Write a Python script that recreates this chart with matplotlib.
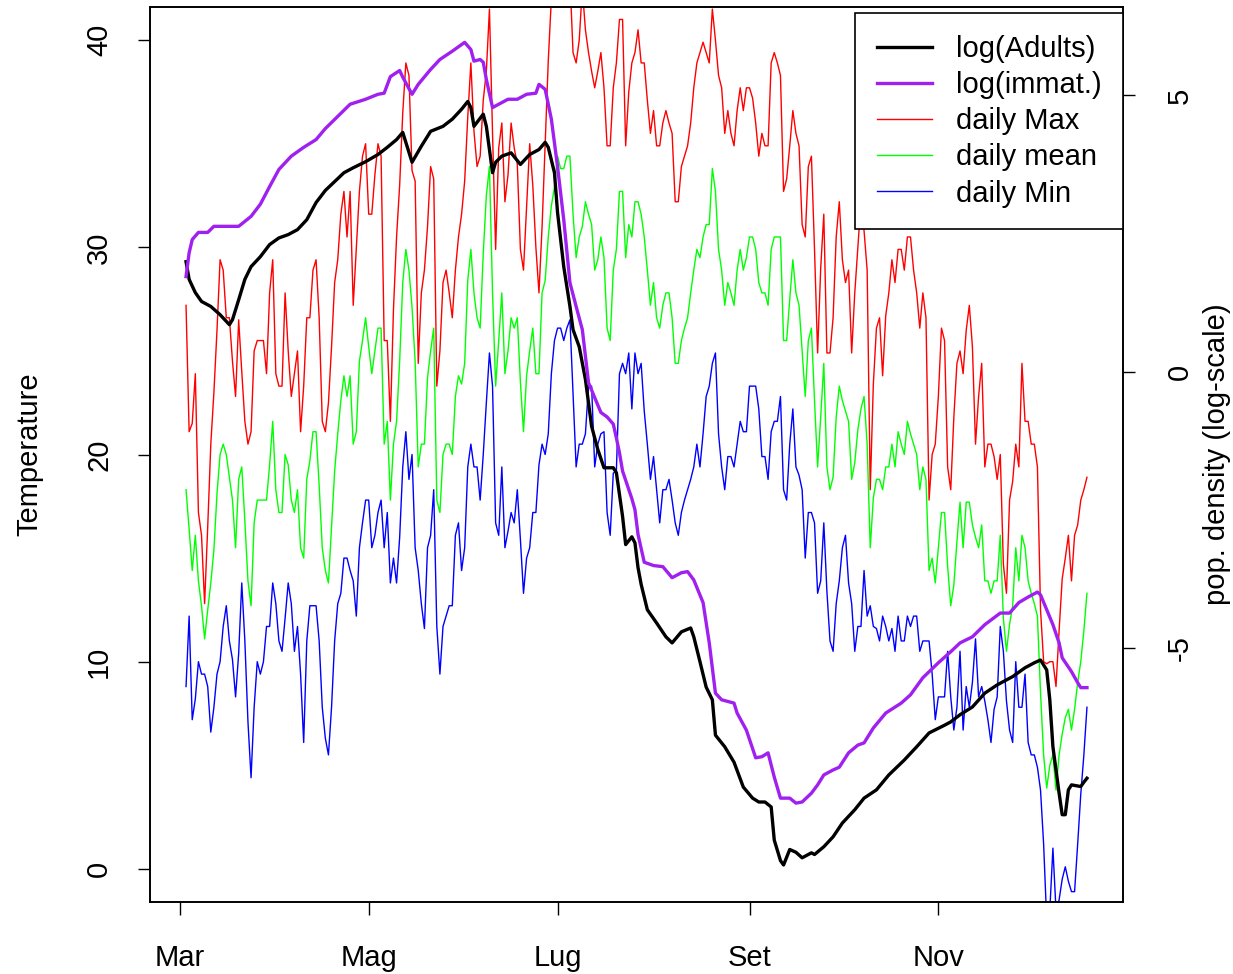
import numpy as np
import matplotlib
matplotlib.use("Agg")
import matplotlib.pyplot as plt
from matplotlib.lines import Line2D

plt.rcParams['font.family'] = ['Liberation Sans', 'DejaVu Sans']

# daily temperatures, day 2 (3 Mar) .. day 293 (19 Dec), day 0 = 1 Mar
t_max = [
    27.2, 21.1, 21.5, 23.9, 17.2, 16.1, 12.8, 16.5, 20.5, 23.0,
    26.0, 29.4, 28.9, 26.6, 26.6, 24.5, 22.8, 26.5, 24.0, 21.6,
    20.5, 21.1, 25.0, 25.5, 25.5, 25.5, 23.9, 27.8, 29.4, 23.9,
    23.3, 23.3, 27.8, 25.0, 22.8, 23.9, 25.0, 21.1, 23.3, 26.6,
    26.6, 28.9, 29.4, 26.6, 21.6, 21.1, 22.5, 25.2, 28.3, 29.4,
    31.6, 32.7, 30.5, 32.7, 27.2, 30.0, 32.7, 34.4, 35.0, 31.6,
    31.6, 33.5, 35.0, 34.4, 25.5, 25.5, 21.6, 27.0, 30.5, 33.0,
    36.5, 38.9, 38.3, 33.7, 33.2, 24.4, 27.8, 28.9, 31.0, 33.9,
    33.3, 23.3, 25.0, 28.3, 28.9, 27.8, 26.6, 28.9, 30.5, 31.6,
    33.2, 36.3, 38.9, 35.6, 33.9, 34.4, 37.1, 38.5, 41.5, 35.5,
    29.9, 34.8, 36.0, 32.2, 33.5, 36.0, 34.8, 34.0, 29.9, 28.9,
    32.0, 35.0, 33.0, 30.0, 27.8, 31.0, 35.0, 39.0, 42.0, 44.0,
    43.0, 45.0, 42.5, 44.0, 43.0, 39.4, 38.9, 40.0, 42.5, 40.5,
    39.4, 38.5, 37.7, 38.5, 39.4, 37.7, 34.9, 34.9, 37.7, 38.9,
    41.0, 41.0, 34.9, 37.5, 38.9, 39.4, 40.5, 38.9, 38.9, 37.1,
    35.5, 36.6, 34.9, 34.9, 36.0, 36.6, 36.0, 35.5, 32.2, 32.2,
    33.9, 34.4, 34.9, 36.0, 37.7, 38.9, 39.4, 39.9, 39.4, 38.9,
    41.5, 40.0, 38.3, 37.7, 35.5, 36.6, 35.5, 34.9, 36.6, 37.7,
    36.6, 37.7, 37.7, 37.2, 36.0, 34.4, 35.5, 34.9, 34.9, 38.9,
    39.4, 38.9, 38.3, 32.7, 33.3, 34.9, 36.6, 35.5, 34.9, 31.1,
    30.5, 33.9, 34.4, 29.9, 24.9, 29.0, 31.6, 24.9, 24.9, 26.6,
    30.5, 32.2, 29.4, 28.3, 28.9, 24.9, 27.8, 30.0, 32.2, 30.8,
    28.9, 18.3, 23.4, 26.1, 26.6, 23.8, 26.7, 27.8, 29.4, 28.3,
    29.9, 29.9, 28.9, 30.5, 30.5, 28.9, 27.8, 26.1, 27.8, 26.6,
    17.8, 20.0, 20.5, 22.8, 26.1, 25.5, 19.4, 18.3, 21.8, 24.4,
    25.0, 23.9, 26.0, 27.2, 25.2, 20.5, 22.8, 24.4, 19.4, 20.5,
    20.5, 19.9, 18.8, 20.0, 14.7, 13.3, 17.8, 18.7, 20.5, 19.4,
    24.4, 21.6, 21.6, 20.5, 20.5, 19.4, 12.5, 10.0, 9.9, 10.0,
    10.0, 8.8, 11.5, 14.0, 15.0, 16.1, 13.9, 16.1, 16.6, 17.8,
    18.3, 18.9,
]

t_mean = [
    18.3, 16.4, 14.4, 16.1, 13.9, 12.7, 11.1, 12.5, 13.8, 15.4,
    18.1, 20.0, 20.5, 20.0, 18.9, 17.8, 15.5, 18.8, 19.4, 16.8,
    13.9, 12.7, 16.7, 17.8, 17.8, 17.8, 17.8, 19.5, 21.6, 18.3,
    17.2, 17.2, 20.0, 19.5, 17.8, 17.2, 18.3, 15.5, 15.0, 18.8,
    19.7, 21.1, 21.1, 18.5, 15.5, 14.4, 13.8, 16.5, 19.2, 21.0,
    22.6, 23.8, 22.8, 23.8, 20.5, 21.1, 24.5, 25.5, 26.6, 25.2,
    23.9, 25.0, 26.1, 26.1, 20.5, 21.6, 17.8, 20.5, 21.6, 24.5,
    28.3, 29.9, 28.9, 27.1, 24.5, 19.4, 20.5, 20.5, 23.7, 25.0,
    26.1, 17.8, 17.2, 20.0, 20.5, 20.5, 20.0, 22.8, 23.8, 23.4,
    24.4, 28.4, 29.9, 27.8, 26.6, 26.1, 29.7, 32.5, 33.9, 27.8,
    23.3, 25.5, 27.8, 23.9, 25.0, 26.6, 26.1, 26.6, 23.5, 21.1,
    23.8, 25.0, 26.1, 23.9, 23.9, 27.8, 28.4, 30.5, 32.0, 32.9,
    34.4, 33.8, 33.8, 34.4, 34.4, 31.6, 29.5, 30.5, 31.0, 32.2,
    31.6, 31.1, 28.9, 29.4, 30.5, 29.5, 26.1, 25.5, 28.9, 29.9,
    32.7, 32.7, 29.5, 31.1, 30.5, 32.2, 32.2, 31.6, 30.5, 28.9,
    27.2, 28.3, 26.6, 26.1, 27.2, 27.8, 27.8, 26.6, 24.4, 24.4,
    25.5, 26.1, 26.6, 27.8, 28.9, 29.9, 29.5, 30.5, 31.1, 31.1,
    33.8, 32.7, 29.9, 28.9, 27.2, 28.3, 27.8, 27.2, 28.9, 29.9,
    28.9, 29.5, 30.5, 30.5, 29.9, 28.3, 27.8, 27.8, 27.2, 29.9,
    30.5, 30.5, 30.5, 25.5, 25.5, 27.5, 29.4, 27.8, 27.2, 25.0,
    22.8, 25.5, 26.1, 22.6, 19.4, 21.8, 24.4, 19.4, 18.3, 18.9,
    21.8, 23.3, 22.6, 22.1, 21.6, 18.8, 19.6, 21.2, 22.2, 22.8,
    20.5, 15.5, 17.9, 18.8, 18.8, 18.3, 19.4, 19.4, 20.5, 19.4,
    21.1, 20.5, 20.0, 21.6, 21.0, 20.5, 20.0, 18.3, 19.4, 18.8,
    14.4, 15.0, 13.8, 15.5, 17.2, 17.2, 14.6, 12.7, 13.7, 15.8,
    17.7, 15.5, 17.7, 17.7, 16.6, 16.0, 15.5, 16.6, 13.9, 13.9,
    13.3, 13.9, 13.9, 16.1, 12.1, 10.5, 11.8, 12.7, 15.5, 13.9,
    16.1, 15.5, 13.9, 13.3, 12.8, 12.2, 8.5, 5.5, 3.9, 5.0,
    5.5, 3.8, 5.5, 6.5, 7.3, 7.7, 6.7, 7.7, 9.0, 10.0,
    11.5, 13.3,
]

t_min = [
    8.8, 12.2, 7.2, 8.2, 10.0, 9.4, 9.4, 8.8, 6.6, 7.8,
    9.4, 10.0, 11.7, 12.7, 11.0, 10.1, 8.3, 10.4, 13.8, 11.0,
    7.1, 4.4, 7.8, 10.0, 9.4, 10.0, 11.7, 11.7, 13.8, 12.8,
    11.0, 10.5, 12.1, 13.8, 12.8, 10.5, 11.7, 9.4, 6.1, 11.0,
    12.7, 12.7, 12.7, 11.0, 7.8, 6.3, 5.5, 7.8, 11.0, 12.8,
    13.3, 15.0, 15.0, 14.4, 13.9, 12.2, 15.5, 16.7, 17.8, 17.8,
    15.5, 16.1, 17.2, 17.8, 15.5, 17.2, 13.8, 15.0, 13.8, 16.0,
    19.4, 21.1, 18.8, 20.0, 15.5, 14.4, 12.8, 11.6, 15.5, 16.1,
    18.3, 11.7, 9.4, 11.7, 12.2, 12.7, 12.7, 16.1, 16.7, 14.4,
    15.5, 19.4, 20.5, 19.4, 19.4, 17.8, 20.0, 22.5, 24.9, 23.3,
    16.7, 16.1, 19.4, 15.5, 16.3, 17.2, 16.7, 18.3, 15.9, 13.3,
    15.0, 15.5, 17.2, 17.2, 19.5, 20.5, 20.0, 21.0, 23.9, 25.5,
    26.1, 26.1, 25.5, 26.1, 26.5, 23.0, 19.4, 20.5, 20.5, 21.0,
    23.3, 23.3, 19.4, 20.5, 21.0, 21.1, 17.2, 16.1, 19.1, 19.2,
    23.9, 24.4, 23.9, 24.9, 22.2, 24.9, 23.9, 24.4, 22.1, 20.5,
    18.8, 19.9, 18.3, 16.7, 18.3, 18.3, 18.8, 17.8, 16.7, 16.1,
    17.2, 17.8, 18.3, 18.8, 19.4, 20.5, 19.4, 21.0, 22.8, 23.3,
    24.4, 24.9, 21.0, 19.4, 18.3, 19.9, 19.9, 19.4, 20.5, 21.6,
    21.1, 21.1, 23.3, 23.3, 23.3, 22.2, 19.9, 19.9, 18.8, 21.1,
    21.6, 21.6, 22.8, 18.3, 17.8, 20.5, 22.2, 19.4, 19.0, 18.3,
    15.0, 17.2, 17.2, 16.7, 13.3, 13.9, 16.7, 13.4, 11.0, 10.5,
    12.8, 13.9, 15.5, 16.1, 13.8, 12.8, 10.5, 11.7, 11.7, 14.4,
    12.2, 12.7, 11.7, 11.6, 11.0, 12.2, 11.7, 11.0, 11.6, 10.5,
    12.2, 11.0, 11.0, 12.2, 11.7, 12.2, 12.2, 10.5, 11.0, 11.0,
    11.0, 9.4, 7.2, 8.3, 8.3, 8.3, 10.5, 8.3, 6.7, 7.8,
    10.5, 6.7, 8.8, 7.8, 9.0, 11.1, 8.3, 8.8, 8.1, 7.2,
    6.1, 7.7, 8.3, 11.7, 10.5, 8.1, 6.7, 6.1, 10.0, 7.8,
    7.8, 9.4, 6.1, 5.5, 5.5, 4.9, 3.8, 1.2, -2.5, -2.0,
    1.0, -2.0, -1.5, -0.5, 0.1, -0.6, -1.1, -1.1, 1.2, 3.6,
    5.5, 7.8,
]
temp_days = np.arange(2, 2 + len(t_max))

# population densities (log scale), read at selected days
adult_days = [2, 3, 5, 7, 10, 13, 16, 17, 19, 21, 23, 26, 29, 32, 35, 38, 41, 44, 47, 50,
              53, 56, 60, 64, 67, 70, 72, 73, 75, 78, 81, 85, 88, 91, 93, 94, 95, 98, 99, 100,
              101, 102, 104, 107, 110, 113, 116, 118, 119, 121, 122, 124, 126, 127, 129, 131,
              133, 135, 137, 140, 141, 143, 144, 146, 147, 148, 149, 151, 154, 157, 159, 162,
              165, 166, 168, 170, 172, 173, 176, 179, 182, 185, 187, 189, 191, 192, 194, 195,
              197, 199, 201, 204, 205, 208, 211, 214, 218, 221, 225, 229, 234, 238, 242, 247,
              249, 252, 256, 260, 264, 269, 273, 276, 278, 280, 281, 282, 284, 285, 286, 287,
              288, 291, 292, 293]
log_adults = [1.99, 1.67, 1.43, 1.27, 1.18, 1.03, 0.85, 0.94, 1.30, 1.67, 1.90, 2.08, 2.30,
              2.42, 2.48, 2.57, 2.75, 3.06, 3.28, 3.44, 3.60, 3.69, 3.80, 3.93, 4.06, 4.20,
              4.33, 4.15, 3.79, 4.08, 4.35, 4.44, 4.57, 4.75, 4.89, 4.78, 4.44, 4.66, 4.44,
              4.02, 3.60, 3.79, 3.90, 3.96, 3.75, 3.93, 4.02, 4.15, 4.06, 3.60, 2.88, 1.90,
              1.18, 0.76, 0.45, -0.14, -0.99, -1.41, -1.74, -1.74, -1.83, -2.62, -3.13, -2.99,
              -3.10, -3.55, -3.85, -4.31, -4.55, -4.80, -4.91, -4.71, -4.64, -4.80, -5.25,
              -5.71, -5.94, -6.58, -6.79, -7.07, -7.52, -7.72, -7.79, -7.79, -7.88, -8.48,
              -8.85, -8.93, -8.65, -8.70, -8.80, -8.71, -8.74, -8.60, -8.42, -8.17, -7.93,
              -7.72, -7.57, -7.30, -7.03, -6.79, -6.54, -6.40, -6.34, -6.21, -6.07, -5.82,
              -5.67, -5.52, -5.36, -5.27, -5.22, -5.40, -5.94, -6.79, -7.63, -8.02, -8.02,
              -7.57, -7.48, -7.51, -7.43, -7.36]

immat_days = [2, 3, 4, 6, 9, 11, 15, 19, 23, 26, 29, 32, 36, 40, 44, 47, 51, 55, 60, 64,
              66, 68, 71, 72, 75, 77, 81, 84, 88, 92, 94, 95, 97, 98, 99, 101, 103, 106, 109,
              112, 115, 116, 118, 120, 122, 124, 126, 128, 130, 132, 136, 138, 140, 141, 142,
              143, 146, 147, 148, 149, 150, 153, 156, 159, 162, 164, 166, 169, 171, 173, 175,
              179, 180, 183, 186, 188, 190, 192, 194, 197, 199, 201, 204, 206, 208, 211, 213,
              216, 219, 221, 224, 228, 233, 236, 240, 245, 249, 252, 256, 260, 265, 268, 271,
              274, 277, 278, 280, 282, 284, 285, 288, 290, 291, 293]
log_immat = [1.72, 2.15, 2.39, 2.52, 2.52, 2.63, 2.63, 2.63, 2.81, 3.03, 3.35, 3.66, 3.90,
             4.06, 4.20, 4.40, 4.62, 4.84, 4.93, 5.02, 5.04, 5.34, 5.45, 5.33, 5.02, 5.20,
             5.47, 5.65, 5.80, 5.96, 5.83, 5.62, 5.65, 5.60, 5.29, 4.78, 4.84, 4.93, 4.93,
             5.02, 5.04, 5.20, 5.11, 4.57, 3.71, 2.75, 1.61, 1.18, 0.76, -0.20, -0.74, -0.82,
             -0.95, -1.20, -1.47, -1.80, -2.30, -2.50, -2.95, -3.20, -3.45, -3.51, -3.53,
             -3.73, -3.64, -3.62, -3.77, -4.18, -4.91, -5.82, -5.94, -6.00, -6.18, -6.49,
             -6.99, -6.97, -6.90, -7.34, -7.72, -7.72, -7.81, -7.79, -7.63, -7.48, -7.30,
             -7.21, -7.16, -6.90, -6.76, -6.72, -6.45, -6.18, -6.00, -5.85, -5.54, -5.27,
             -5.07, -4.91, -4.80, -4.58, -4.37, -4.37, -4.18, -4.08, -3.99, -4.04, -4.31,
             -4.58, -4.91, -5.18, -5.43, -5.63, -5.72, -5.72]

month_days = [0, 61, 122, 184, 245]
month_labels = ["Mar", "Mag", "Lug", "Set", "Nov"]

FS = 21
fig = plt.figure(figsize=(12.33, 9.74), dpi=100)
ax = fig.add_axes([150 / 1233, 1 - 902 / 974, 973 / 1233, 895 / 974])

ax.plot(temp_days, t_max, color="#FF0000", lw=1.0)
ax.plot(temp_days, t_mean, color="#00FF00", lw=1.0)
ax.plot(temp_days, t_min, color="#0000FF", lw=1.0)
ax.set_xlim(-9.64, 304.64)
ax.set_ylim(-1.6, 41.6)
ax.set_yticks([0, 10, 20, 30, 40])
ax.set_xticks(month_days)
ax.set_xticklabels(month_labels)
ax.tick_params(axis="y", labelsize=FS, length=8.6, width=1, pad=18, labelrotation=90)
ax.tick_params(axis="x", labelsize=FS, length=9.3, width=1, pad=21)
for lab in ax.get_yticklabels():
    lab.set_va("center")
ax.set_ylabel("Temperature", fontsize=FS)
ax.yaxis.set_label_coords((43 - 150) / 973, 0.5)

ax2 = ax.twinx()
ax2.plot(adult_days, log_adults, color="black", lw=2.4)
ax2.plot(immat_days, log_immat, color="#A020F0", lw=2.4)
ax2.set_ylim(-9.6, 6.6)
ax2.set_yticks([-5, 0, 5])
ax2.set_yticklabels(["-5", "0", "5"])
ax2.tick_params(axis="y", labelsize=FS, length=8.6, width=1, pad=22, labelrotation=90)
for lab in ax2.get_yticklabels():
    lab.set_va("center")
ax2.set_ylabel("pop. density (log-scale)", fontsize=FS)
ax2.yaxis.set_label_coords((1203 - 150) / 973, 0.5)

for a in (ax, ax2):
    for s in a.spines.values():
        s.set_linewidth(1.2)

handles = [Line2D([], [], color="black", lw=2.4),
           Line2D([], [], color="#A020F0", lw=2.4),
           Line2D([], [], color="#FF0000", lw=1.0),
           Line2D([], [], color="#00FF00", lw=1.0),
           Line2D([], [], color="#0000FF", lw=1.0)]
labels = ["log(Adults)", "log(immat.)", "daily Max", "daily mean", "daily Min"]
leg = ax2.legend(handles, labels, loc="upper right", bbox_to_anchor=(1.0, 1 - 6 / 895),
                 frameon=True, fancybox=False, edgecolor="black", framealpha=1,
                 fontsize=FS, handlelength=1.9, handletextpad=0.8, labelspacing=0.28,
                 borderpad=0.75, borderaxespad=0)
leg.get_frame().set_linewidth(1.2)

fig.savefig("out.png", dpi=100)
